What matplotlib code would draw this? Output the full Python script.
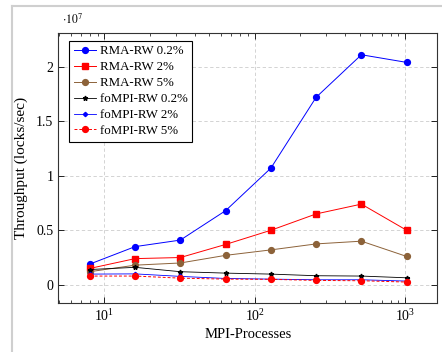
import numpy as np
import matplotlib.pyplot as plt
from matplotlib.lines import Line2D
from matplotlib.ticker import FuncFormatter, FixedLocator

plt.rcParams['font.family'] = ['Liberation Serif', 'DejaVu Serif']
plt.rcParams['mathtext.fontset'] = 'stix'

procs = [8, 16, 32, 64, 128, 256, 512, 1024]

rma_02 = [0.19e7, 0.35e7, 0.41e7, 0.68e7, 1.07e7, 1.72e7, 2.11e7, 2.04e7]
rma_2 = [0.15e7, 0.24e7, 0.25e7, 0.37e7, 0.50e7, 0.65e7, 0.74e7, 0.50e7]
rma_5 = [0.12e7, 0.18e7, 0.20e7, 0.27e7, 0.32e7, 0.375e7, 0.40e7, 0.26e7]
fompi_02 = [0.14e7, 0.16e7, 0.12e7, 0.107e7, 0.098e7, 0.083e7, 0.08e7, 0.064e7]
fompi_2 = [0.098e7, 0.10e7, 0.077e7, 0.058e7, 0.052e7, 0.046e7, 0.046e7, 0.034e7]
fompi_5 = [0.08e7, 0.08e7, 0.061e7, 0.052e7, 0.05e7, 0.04e7, 0.037e7, 0.025e7]

labels = ['RMA-RW 0.2%', 'RMA-RW 2%', 'RMA-RW 5%',
          'foMPI-RW 0.2%', 'foMPI-RW 2%', 'foMPI-RW 5%']

brown = '#8c6239'

fig = plt.figure(figsize=(4.42, 3.52), dpi=100)
ax = fig.add_axes([0.132, 0.138, 0.857, 0.769])

ax.plot(procs, rma_02, color='blue', lw=0.7, marker='o', ms=4.2, label=labels[0])
ax.plot(procs, rma_2, color='red', lw=0.7, marker='s', ms=4.2, label=labels[1])
ax.plot(procs, rma_5, color=brown, lw=0.7, marker='o', ms=4.2, label=labels[2])
ax.plot(procs, fompi_02, color='black', lw=0.6, marker='*', ms=3.5, label=labels[3])
ax.plot(procs, fompi_2, color='blue', lw=0.6, marker='D', ms=2.2, label=labels[4])
ax.plot(procs, fompi_5, color='red', lw=0.7, ls=(0, (3, 2)), marker='o', ms=4.2, label=labels[5])

ax.set_xscale('log')
ax.set_xlim(4.94, 1633)
ax.set_ylim(-0.171e7, 2.312e7)
ax.yaxis.set_major_locator(FixedLocator([0, 0.5e7, 1e7, 1.5e7, 2e7]))
ax.yaxis.set_major_formatter(FuncFormatter(lambda v, p: f'{v / 1e7:g}'))
ax.tick_params(which='both', direction='in', top=True, right=True, labelsize=10)
ax.tick_params(which='major', length=4, width=0.6)
ax.tick_params(which='minor', length=2.2, width=0.5)
for s in ax.spines.values():
    s.set_linewidth(0.8)
    s.set_color('#333333')

ax.grid(True, which='major', ls=(0, (4, 3)), color='#cccccc', lw=0.6)
ax.set_axisbelow(True)

ax.set_xlabel('MPI-Processes', fontsize=10.5, labelpad=3)
ax.set_ylabel('Throughput (locks/sec)', fontsize=11, labelpad=6)
ax.text(0.01, 1.02, r'$\cdot10^{7}$', transform=ax.transAxes, fontsize=8.5,
        ha='left', va='bottom')

leg = ax.legend(loc='upper left', bbox_to_anchor=(0.029, 0.97), fontsize=9.3,
                frameon=True, fancybox=False, edgecolor='black', framealpha=1,
                handlelength=1.7, handletextpad=0.3, borderpad=0.35,
                labelspacing=0.3, borderaxespad=0)
leg.get_frame().set_linewidth(0.8)

# screenshot frame
fig.add_artist(Line2D([12 / 442, 1], [1 - 6 / 352, 1 - 6 / 352], color='#cfcfcf', lw=1.5))
fig.add_artist(Line2D([12 / 442, 12 / 442], [0, 1 - 6 / 352], color='#cfcfcf', lw=1.5))

fig.savefig('out.png', dpi=100)
